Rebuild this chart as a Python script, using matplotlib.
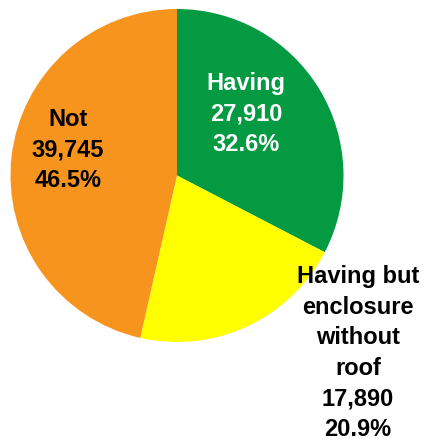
import matplotlib
matplotlib.use("Agg")
import matplotlib.pyplot as plt

categories = ["Having", "Having but\nenclosure\nwithout\nroof", "Not"]
values = [27910, 17890, 39745]
percents = ["32.6%", "20.9%", "46.5%"]
colors = ["#039a41", "#ffff00", "#f7941d"]
text_colors = ["white", "black", "black"]

W, H = 424, 448
fig = plt.figure(figsize=(W / 100, H / 100), dpi=100)
ax = fig.add_axes([0, 0, 1, 1])

cx, cy, r = 177, H - 175.5, 166.5
ax.pie(values, colors=colors, startangle=90, counterclock=False,
       center=(cx, cy), radius=r, frame=True,
       wedgeprops=dict(linewidth=0))
ax.set_xlim(0, W)
ax.set_ylim(0, H)
ax.set_aspect("equal")
ax.axis("off")

label_pos = [(246, H - 114), (358, H - 353), (68, H - 150)]
for cat, v, p, (x, y), tc in zip(categories, values, percents, label_pos, text_colors):
    ax.text(x, y, f"{cat}\n{v:,}\n{p}", ha="center", va="center",
            color=tc, fontsize=17, fontweight="bold",
            family=["Liberation Sans", "DejaVu Sans"],
            linespacing=1.42)

fig.savefig("out.png", dpi=100)
